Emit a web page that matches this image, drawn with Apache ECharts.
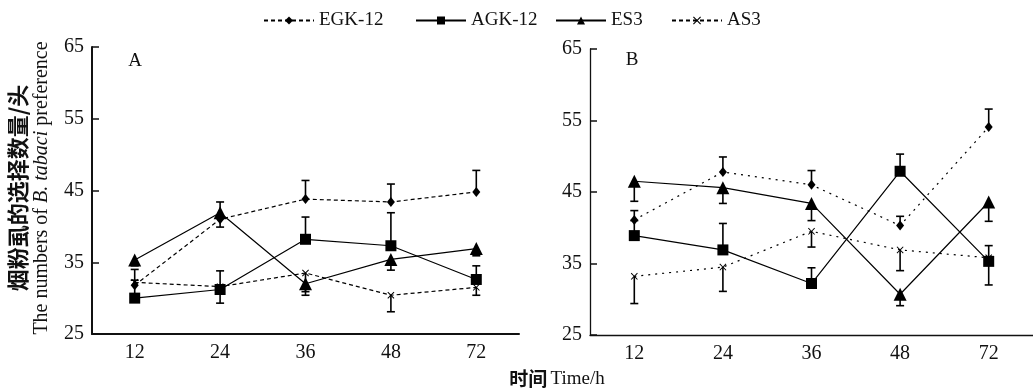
<!DOCTYPE html>
<html>
<head>
<meta charset="utf-8">
<script src="https://cdn.jsdelivr.net/npm/echarts@6/dist/echarts.min.js"></script>
<style>
  html, body { margin: 0; padding: 0; background: #fff; }
  #chart { width: 1033px; height: 391px; }
</style>
</head>
<body>
<div id="chart"></div>
<script>
// categories + axis range
const hours = ['12', '24', '36', '48', '72'];
const yMin = 25, yMax = 65, yStep = 10;

// panel A means and error bar ends (null = no bar)
const egkA = [31.8, 41.0, 43.8, 43.4, 44.8];
const egkAUp = [34.0, null, 46.4, 45.9, 47.8];
const egkALow = [null, 39.9, null, null, null];
const agkA = [30.0, 31.2, 38.2, 37.3, 32.6];
const agkAUp = [32.5, 33.8, 41.3, 41.9, 34.5];
const agkALow = [null, 29.3, null, null, null];
const es3A = [35.3, 41.9, 32.0, 35.4, 36.9];
const es3AUp = [null, 43.4, null, null, null];
const es3ALow = [34.5, null, 30.9, 33.9, 35.9];
const as3A = [32.2, 31.6, 33.5, 30.4, 31.5];
const as3ALow = [null, null, 30.4, 28.1, 30.4];

// panel B
const egkB = [41.1, 47.8, 46.0, 40.3, 54.1];
const egkBUp = [42.4, 49.9, 48.0, 41.6, 56.6];
const agkB = [38.9, 36.9, 32.2, 47.9, 35.3];
const agkBUp = [41.0, 40.6, 34.4, 50.3, 37.5];
const agkBLow = [null, null, null, null, 32.0];
const es3B = [46.5, 45.6, 43.4, 30.7, 43.6];
const es3BLow = [43.7, 43.4, 41.0, 29.1, 40.9];
const as3B = [33.2, 34.5, 39.5, 36.9, 35.8];
const as3BLow = [29.4, 31.1, 37.3, 34.0, null];

const serif = '"Liberation Serif", "Times New Roman", serif';
const cjk = '"Noto Sans CJK SC", sans-serif';
const xMark = 'path://M0,1L1,0L5,4L9,0L10,1L6,5L10,9L9,10L5,6L1,10L0,9L4,5Z';

const errData = (vals, ends) =>
  vals.map((v, i) => (ends[i] == null ? null : [i, v, ends[i]])).filter(Boolean);

const renderErr = (params, api) => {
  const p0 = api.coord([api.value(0), api.value(1)]);
  const p1 = api.coord([api.value(0), api.value(2)]);
  const w = 4;
  const style = { stroke: '#000', lineWidth: 1.6 };
  return {
    type: 'group',
    children: [
      { type: 'line', shape: { x1: p0[0], y1: p0[1], x2: p1[0], y2: p1[1] }, style },
      { type: 'line', shape: { x1: p1[0] - w, y1: p1[1], x2: p1[0] + w, y2: p1[1] }, style }
    ]
  };
};

const errSeries = (idx, vals, ends) => ({
  type: 'custom',
  name: 'err',
  xAxisIndex: idx,
  yAxisIndex: idx,
  renderItem: renderErr,
  encode: { x: 0, y: [1, 2] },
  data: errData(vals, ends),
  z: 2,
  silent: true
});

const lineSeries = (name, idx, data, symbol, size, dash) => ({
  name,
  type: 'line',
  xAxisIndex: idx,
  yAxisIndex: idx,
  data,
  symbol,
  symbolSize: size,
  showAllSymbol: true,
  lineStyle: { color: '#000', width: 1.2, type: dash || 'solid' },
  itemStyle: { color: '#000' },
  z: 3,
  animation: false
});

const xAxisCfg = (idx, w) => ({
  type: 'category',
  gridIndex: idx,
  data: hours,
  boundaryGap: true,
  axisLine: { lineStyle: { color: '#111', width: w } },
  axisTick: { inside: true, alignWithLabel: true, length: 10, lineStyle: { color: '#111', width: 1 } },
  axisLabel: { color: '#111', fontFamily: serif, fontSize: 20, margin: 9 },
  splitLine: { show: false }
});

const yAxisCfg = (idx, w) => ({
  type: 'value',
  gridIndex: idx,
  min: yMin,
  max: yMax,
  interval: yStep,
  axisLine: { show: true, lineStyle: { color: '#111', width: w } },
  axisTick: { show: true, inside: true, length: 7, lineStyle: { color: '#111', width: 1.5 } },
  axisLabel: { color: '#111', fontFamily: serif, fontSize: 20, margin: 8 },
  splitLine: { show: false }
});

const legendCfg = (name, left) => ({
  data: [name],
  left,
  top: 6,
  itemWidth: 50,
  itemHeight: 10,
  itemGap: 0,
  selectedMode: false,
  textStyle: { color: '#111', fontFamily: serif, fontSize: 19 }
});

const chart = echarts.init(document.getElementById('chart'), null, { renderer: 'canvas' });

chart.setOption({
  animation: false,
  backgroundColor: '#fff',
  legend: [
    legendCfg('EGK-12', 258),
    legendCfg('AGK-12', 410),
    legendCfg('ES3', 550),
    legendCfg('AS3', 666)
  ],
  grid: [
    { left: 92, top: 47, width: 427, height: 287 },
    { left: 590, top: 49, width: 445, height: 286 }
  ],
  xAxis: [xAxisCfg(0, 2), xAxisCfg(1, 1.3)],
  yAxis: [yAxisCfg(0, 2), yAxisCfg(1, 1.3)],
  graphic: [
    { type: 'text', x: 135, y: 61, style: { text: 'A', font: '19px ' + serif, fill: '#111', align: 'center', verticalAlign: 'middle' } },
    { type: 'text', x: 632, y: 60, style: { text: 'B', font: '19px ' + serif, fill: '#111', align: 'center', verticalAlign: 'middle' } },
    {
      type: 'text', x: 29, y: 188, rotation: Math.PI / 2,
      style: {
        text: '{cn|烟粉虱的选择数量/头}\n{en|The numbers of }{it|B. tabaci}{en| preference}',
        align: 'center', verticalAlign: 'middle',
        rich: {
          cn: { fontFamily: cjk, fontSize: 22, fontWeight: 'bold', lineHeight: 25, fill: '#111' },
          en: { fontFamily: serif, fontSize: 20, lineHeight: 22, fill: '#111' },
          it: { fontFamily: serif, fontSize: 20, fontStyle: 'italic', lineHeight: 22, fill: '#111' }
        }
      }
    },
    {
      type: 'text', x: 557, y: 379,
      style: {
        text: '{cn|时间} {en|Time/h}',
        align: 'center', verticalAlign: 'middle',
        rich: {
          cn: { fontFamily: cjk, fontSize: 19, fontWeight: 'bold', fill: '#111' },
          en: { fontFamily: serif, fontSize: 19, fill: '#111' }
        }
      }
    }
  ],
  series: [
    errSeries(0, egkA, egkAUp), errSeries(0, egkA, egkALow),
    errSeries(0, agkA, agkAUp), errSeries(0, agkA, agkALow),
    errSeries(0, es3A, es3AUp), errSeries(0, es3A, es3ALow),
    errSeries(0, as3A, as3ALow),
    errSeries(1, egkB, egkBUp),
    errSeries(1, agkB, agkBUp), errSeries(1, agkB, agkBLow),
    errSeries(1, es3B, es3BLow),
    errSeries(1, as3B, as3BLow),
    lineSeries('EGK-12', 0, egkA, 'diamond', [8, 10], [4, 3]),
    lineSeries('AGK-12', 0, agkA, 'rect', 11),
    lineSeries('ES3', 0, es3A, 'triangle', 13),
    lineSeries('AS3', 0, as3A, xMark, 7, [4, 3]),
    lineSeries('EGK-12', 1, egkB, 'diamond', [8, 10], [2, 5]),
    lineSeries('AGK-12', 1, agkB, 'rect', 11),
    lineSeries('ES3', 1, es3B, 'triangle', 13),
    lineSeries('AS3', 1, as3B, xMark, 7, [2, 5])
  ]
});
</script>
</body>
</html>
